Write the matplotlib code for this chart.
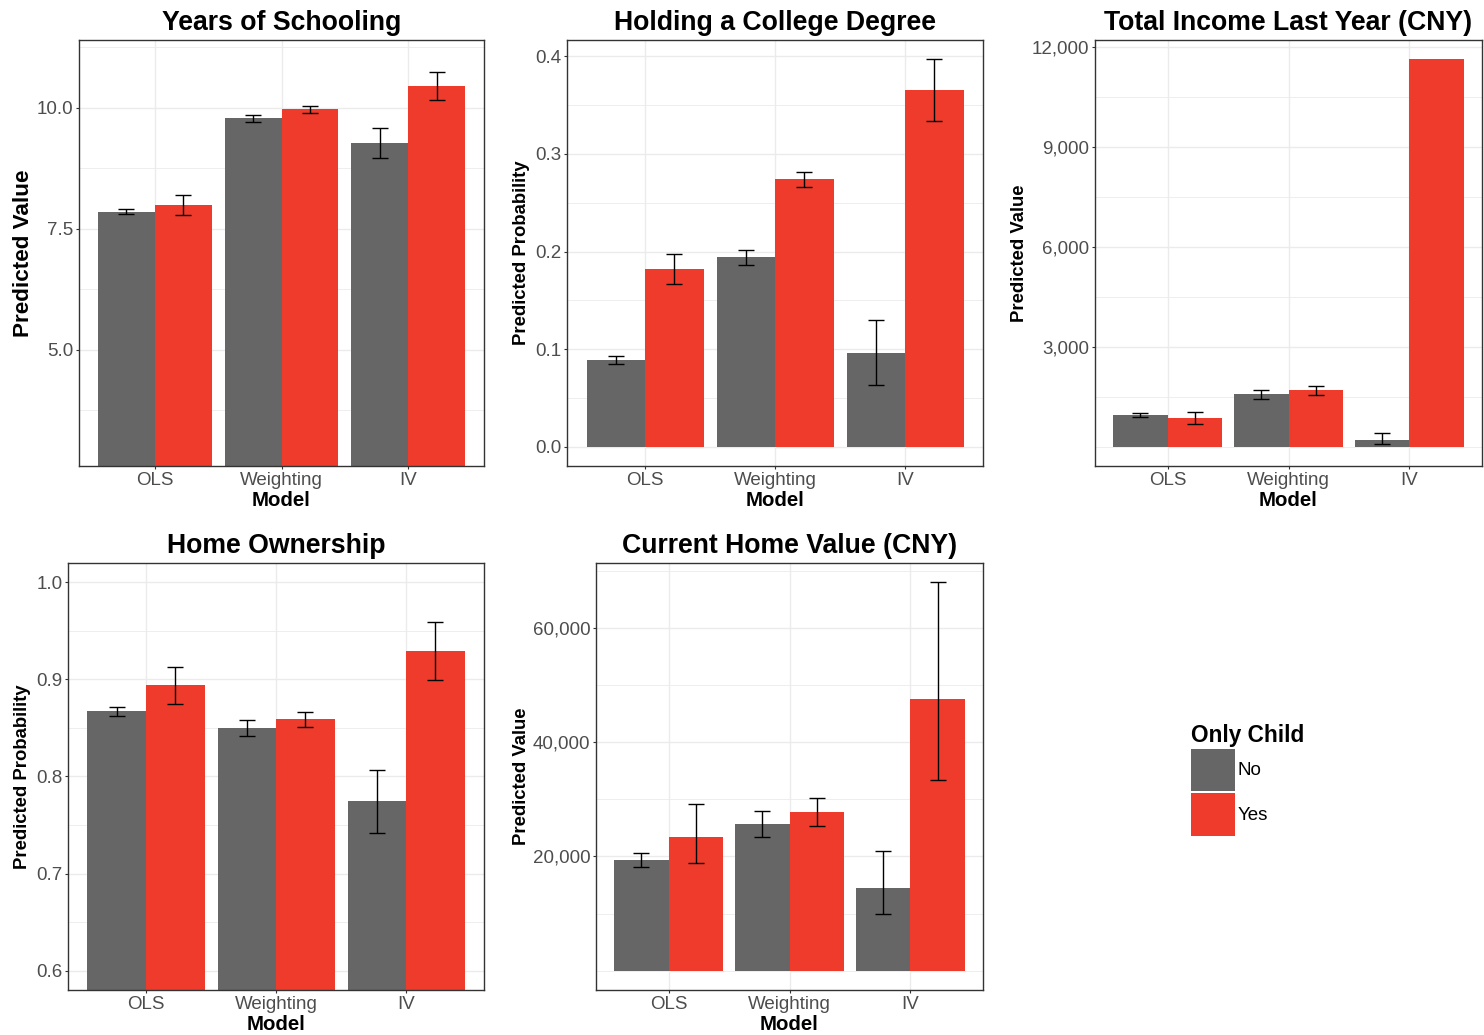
import numpy as np
import matplotlib
matplotlib.use("Agg")
import matplotlib.pyplot as plt
from matplotlib.patches import Patch

plt.rcParams["font.family"] = ["Liberation Sans", "DejaVu Sans"]

models = ["OLS", "Weighting", "IV"]
groups = ["No", "Yes"]

# predicted values with lower / upper bounds, per model
school_no = [7.85, 9.78, 9.28]
school_no_lo = [7.80, 9.71, 8.97]
school_no_hi = [7.90, 9.85, 9.58]
school_yes = [8.00, 9.97, 10.45]
school_yes_lo = [7.78, 9.90, 10.16]
school_yes_hi = [8.20, 10.03, 10.74]

college_no = [0.089, 0.194, 0.096]
college_no_lo = [0.085, 0.186, 0.063]
college_no_hi = [0.093, 0.202, 0.130]
college_yes = [0.182, 0.274, 0.366]
college_yes_lo = [0.167, 0.266, 0.334]
college_yes_hi = [0.197, 0.282, 0.397]

income_no = [940, 1570, 190]
income_no_lo = [885, 1445, 90]
income_no_hi = [1000, 1705, 415]
income_yes = [850, 1690, 11635]
income_yes_lo = [690, 1555, np.nan]
income_yes_hi = [1035, 1815, np.nan]

home_no = [0.867, 0.850, 0.775]
home_no_lo = [0.862, 0.842, 0.742]
home_no_hi = [0.872, 0.858, 0.807]
home_yes = [0.894, 0.859, 0.929]
home_yes_lo = [0.875, 0.851, 0.899]
home_yes_hi = [0.913, 0.866, 0.959]

value_no = [19350, 25670, 14440]
value_no_lo = [18120, 23390, 9830]
value_no_hi = [20530, 28000, 20980]
value_yes = [23400, 27770, 47600]
value_yes_lo = [18770, 25370, 33330]
value_yes_hi = [29120, 30280, 68000]

GREY = "#666666"
RED = "#EF3B2C"
TEXT_GREY = "#4D4D4D"
GRID = "#EBEBEB"

W, H = 1484, 1035
fig = plt.figure(figsize=(W / 100, H / 100), dpi=100)


def add_panel(x0, y0, x1, y1):
    return fig.add_axes([x0 / W, 1 - y1 / H, (x1 - x0) / W, (y1 - y0) / H])


def expanded(lo, hi, mult=0.05):
    span = hi - lo
    return lo - mult * span, hi + mult * span


def draw_panel(ax, title, ylabel, no, no_ci, yes, yes_ci, ylim, major, minor,
               fmt, ylabel_size=13.3, ylabel_dx=-45):
    x = np.arange(len(models))
    width = 0.45
    for vals, ci, off, color in [(no, no_ci, -width / 2, GREY),
                                 (yes, yes_ci, width / 2, RED)]:
        ax.bar(x + off, vals, width=width, color=color, zorder=2)
        lo = np.asarray(ci[0], dtype=float)
        hi = np.asarray(ci[1], dtype=float)
        ok = np.isfinite(lo) & np.isfinite(hi)
        mid = (lo + hi) / 2
        ax.errorbar((x + off)[ok], mid[ok], yerr=((hi - lo) / 2)[ok], fmt="none",
                    ecolor="black", elinewidth=1.0, capsize=5.8, capthick=1.0,
                    zorder=3)

    ax.set_xlim(-0.6, len(models) - 0.4)
    ax.set_ylim(*ylim)
    ax.set_xticks(x)
    ax.set_xticklabels(models)
    ax.set_yticks(major)
    ax.set_yticklabels([fmt(v) for v in major])
    ax.set_yticks(minor, minor=True)
    ax.tick_params(axis="y", which="minor", length=0)
    ax.tick_params(which="major", length=2.4, width=0.8, color="#333333",
                   labelsize=13.5, labelcolor=TEXT_GREY, pad=1.5)
    ax.tick_params(axis="x", which="major", pad=2.2)
    ax.grid(True, which="major", color=GRID, linewidth=1.0, zorder=0)
    ax.grid(True, which="minor", axis="y", color=GRID, linewidth=0.6, zorder=0)
    ax.set_axisbelow(True)
    for s in ax.spines.values():
        s.set_color("#333333")
        s.set_linewidth(1.0)

    ax.set_title(title, fontsize=19.2, fontweight="bold", pad=7.5)
    ax.set_xlabel("Model", fontsize=14.7, fontweight="bold", va="center")
    bbox = ax.get_position()
    ax_h = bbox.height * H
    ax_w = bbox.width * W
    ax.xaxis.set_label_coords(0.5, -34 / ax_h)
    ax.set_ylabel(ylabel, fontsize=ylabel_size, fontweight="bold", va="center")
    ax.yaxis.set_label_coords(ylabel_dx / ax_w, 0.5)


comma = lambda v: f"{v:,.0f}"
one_dec = lambda v: f"{v:.1f}"

ax1 = add_panel(79, 40, 484, 466)
draw_panel(ax1, "Years of Schooling", "Predicted Value",
           school_no, (school_no_lo, school_no_hi),
           school_yes, (school_yes_lo, school_yes_hi),
           expanded(3, 11), [5.0, 7.5, 10.0], [3.75, 6.25, 8.75, 11.25],
           one_dec, ylabel_size=16.2, ylabel_dx=-55)

ax2 = add_panel(567, 40, 983, 466)
draw_panel(ax2, "Holding a College Degree", "Predicted Probability",
           college_no, (college_no_lo, college_no_hi),
           college_yes, (college_yes_lo, college_yes_hi),
           expanded(0, max(college_yes_hi)), [0.0, 0.1, 0.2, 0.3, 0.4],
           [0.05, 0.15, 0.25, 0.35], one_dec, ylabel_dx=-45)

ax3 = add_panel(1095, 40, 1482, 466)
draw_panel(ax3, "Total Income Last Year (CNY)", "Predicted Value",
           income_no, (income_no_lo, income_no_hi),
           income_yes, (income_yes_lo, income_yes_hi),
           expanded(0, max(income_yes)), [3000, 6000, 9000, 12000],
           [0, 1500, 4500, 7500, 10500], comma, ylabel_dx=-75)

ax4 = add_panel(68, 563, 484, 990)
draw_panel(ax4, "Home Ownership", "Predicted Probability",
           home_no, (home_no_lo, home_no_hi),
           home_yes, (home_yes_lo, home_yes_hi),
           expanded(0.6, 1.0), [0.6, 0.7, 0.8, 0.9, 1.0],
           [0.65, 0.75, 0.85, 0.95], one_dec, ylabel_dx=-45)

ax5 = add_panel(596, 563, 983, 990)
draw_panel(ax5, "Current Home Value (CNY)", "Predicted Value",
           value_no, (value_no_lo, value_no_hi),
           value_yes, (value_yes_lo, value_yes_hi),
           expanded(0, max(value_yes_hi)), [20000, 40000, 60000],
           [0, 10000, 30000, 50000, 70000], comma, ylabel_dx=-75)

handles = [Patch(facecolor=GREY, edgecolor="none"), Patch(facecolor=RED, edgecolor="none")]
leg = fig.legend(handles, groups, title="Only Child", loc="upper left",
                 bbox_to_anchor=(1191 / W, 1 - 724 / H), frameon=False,
                 fontsize=13.5, title_fontsize=16.3, alignment="left",
                 handlelength=2.35, handleheight=3.15, handletextpad=0.15,
                 labelspacing=0.08, borderpad=0, borderaxespad=0)
leg.get_title().set_fontweight("bold")

fig.savefig("out.png", dpi=100)
